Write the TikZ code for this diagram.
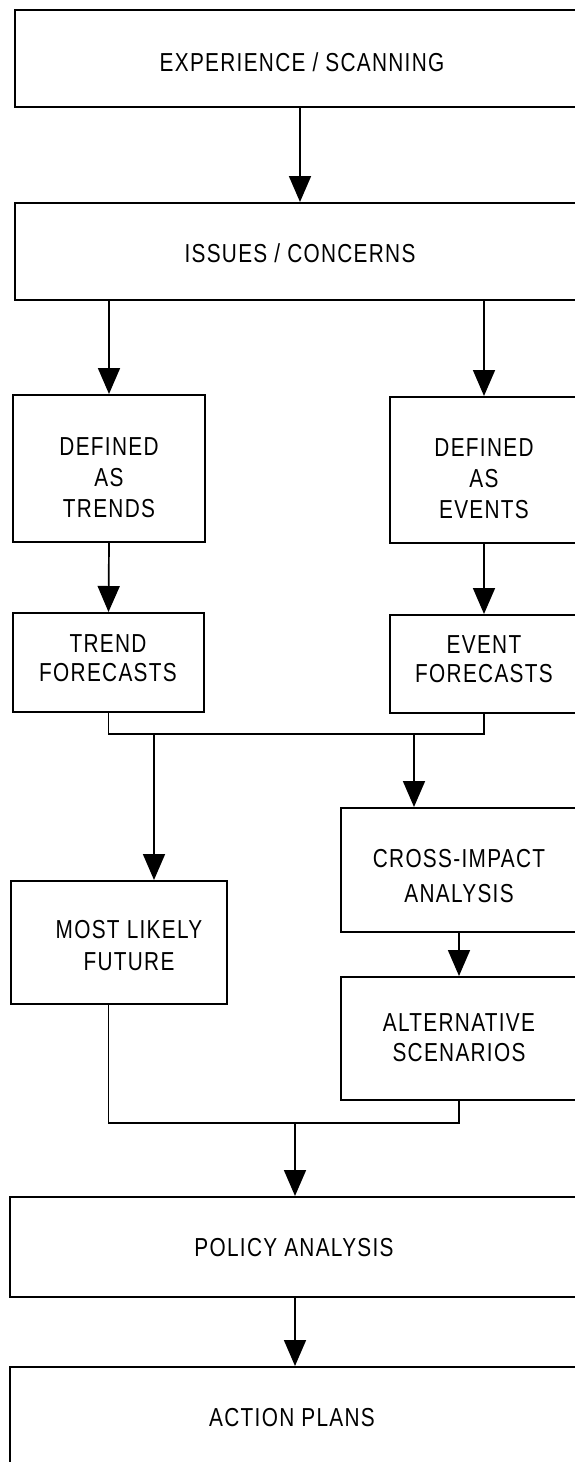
\documentclass[tikz,border=0pt]{standalone}
\usepackage{fontspec}
\setmainfont[FakeStretch=0.8,LetterSpace=5]{Liberation Sans}
\usetikzlibrary{arrows.meta}
\tikzset{
  box/.style={draw, line width=2pt, rectangle, inner sep=0pt},
  lbl/.style={align=center, inner sep=0pt, font=\fontsize{26}{31}\selectfont},
  arr/.style={line width=1.7pt, -{Triangle[length=26pt,width=22pt]}},
  ln/.style={line width=1.7pt}
}
\begin{document}
\begin{tikzpicture}[x=1pt,y=-1pt]
\clip (0,0) rectangle (575,1462);
\fill[white] (0,0) rectangle (575,1462);
% boxes
\node[box, minimum width=585pt, minimum height=97pt] (exp) at (307.5,58.5) {};
\node[box, minimum width=585pt, minimum height=97pt] (iss) at (307.5,251.5) {};
\node[box, minimum width=192pt, minimum height=147pt] (dt) at (109,468.5) {};
\node[box, minimum width=210pt, minimum height=146pt] (de) at (495,470) {};
\node[box, minimum width=191pt, minimum height=99pt] (tf) at (108.5,662.5) {};
\node[box, minimum width=210pt, minimum height=98pt] (ef) at (495,664) {};
\node[box, minimum width=259pt, minimum height=124pt] (cia) at (470.5,870) {};
\node[box, minimum width=259pt, minimum height=123pt] (as) at (470.5,1038.5) {};
\node[box, minimum width=216pt, minimum height=123pt] (mlf) at (119,942.5) {};
\node[box, minimum width=590pt, minimum height=100pt] (pa) at (305,1247) {};
\node[box, minimum width=590pt, minimum height=113pt] (ap) at (305,1423.5) {};
% labels
\node[lbl] (expT) at (302,62) {EXPERIENCE / SCANNING};
\node[lbl] (issT) at (300,253) {ISSUES / CONCERNS};
\node[lbl] (dtT) at (109,478) {DEFINED\\AS\\TRENDS};
\node[lbl] (deT) at (484,479) {DEFINED\\AS\\EVENTS};
\node[lbl, font=\fontsize{26}{29}\selectfont] (tfT) at (108,658) {TREND\\FORECASTS};
\node[lbl, font=\fontsize{26}{29}\selectfont] (efT) at (484,659) {EVENT\\FORECASTS};
\node[lbl, font=\fontsize{26}{35}\selectfont] (ciaT) at (459,876) {CROSS-IMPACT\\ANALYSIS};
\node[lbl, font=\fontsize{26}{30}\selectfont] (asT) at (459,1038) {ALTERNATIVE\\SCENARIOS};
\node[lbl, font=\fontsize{26}{32}\selectfont] (mlfT) at (129,946) {MOST LIKELY\\FUTURE};
\node[lbl] (paT) at (294,1248) {POLICY ANALYSIS};
\node[lbl] (apT) at (292,1418) {ACTION PLANS};
% helper coordinates
\coordinate (m1) at (0,734);
\coordinate (m2) at (0,1123);
\coordinate (j1) at (154,734);
\coordinate (j2) at (414,734);
\coordinate (j3) at (295,1123);
\coordinate (efb) at (ef.south -| efT);
\coordinate (mlfb) at (mlf.south -| tf);
\coordinate (asb) at (as.south -| asT);
% connectors
\draw[arr] (exp.south -| issT) -- (iss.north -| issT);
\draw[arr] (iss.south -| dt) -- (dt.north);
\draw[arr] (iss.south -| deT) -- (de.north -| deT);
\draw[arr] (dt.south) -- (tf.north);
\draw[arr] (de.south -| deT) -- (ef.north -| deT);
\draw[ln] (tf.south) -- (tf.south |- m1) -- (efb |- m1) -- (efb);
\draw[arr] (j1) -- (j1 |- mlf.north);
\draw[arr] (j2) -- (j2 |- cia.north);
\draw[arr] (cia.south -| ciaT) -- (as.north -| ciaT);
\draw[ln] (mlfb) -- (mlfb |- m2) -- (asb |- m2) -- (asb);
\draw[arr] (j3) -- (j3 |- pa.north);
\draw[arr] (pa.south -| j3) -- (ap.north -| j3);
\end{tikzpicture}
\end{document}
